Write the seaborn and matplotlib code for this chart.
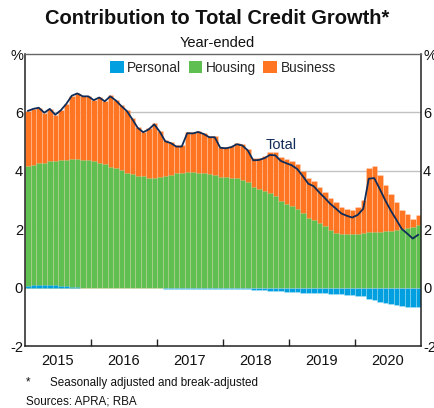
import numpy as np
import pandas as pd
import matplotlib
matplotlib.use("Agg")
import matplotlib.pyplot as plt
from matplotlib.patches import Patch
import seaborn as sns

# Monthly contributions to year-ended credit growth, Jan 2015 - Dec 2020 (ppt)
personal = [0.07, 0.08, 0.10, 0.10, 0.09, 0.08, 0.06, 0.04, 0.03, 0.01, 0.00, 0.00,
            -0.01, -0.01, -0.02, -0.03, -0.03, -0.03, -0.03, -0.03, -0.02, -0.02, -0.03, -0.03,
            -0.03, -0.04, -0.04, -0.04, -0.04, -0.04, -0.05, -0.05, -0.05, -0.05, -0.04, -0.04,
            -0.04, -0.04, -0.05, -0.05, -0.06, -0.07, -0.08, -0.09, -0.10, -0.11, -0.12, -0.14,
            -0.15, -0.16, -0.17, -0.18, -0.19, -0.20, -0.20, -0.21, -0.22, -0.23, -0.24, -0.25,
            -0.28, -0.30, -0.38, -0.42, -0.48, -0.52, -0.57, -0.60, -0.64, -0.68, -0.68, -0.66]
housing = [4.09, 4.11, 4.17, 4.17, 4.24, 4.26, 4.30, 4.33, 4.39, 4.40, 4.36, 4.36,
           4.32, 4.28, 4.25, 4.14, 4.08, 4.02, 3.94, 3.89, 3.83, 3.81, 3.77, 3.77,
           3.80, 3.83, 3.86, 3.91, 3.94, 3.97, 3.97, 3.94, 3.92, 3.89, 3.85, 3.80,
           3.80, 3.77, 3.75, 3.68, 3.60, 3.46, 3.38, 3.32, 3.23, 3.12, 2.98, 2.85,
           2.80, 2.70, 2.55, 2.40, 2.31, 2.21, 2.10, 1.97, 1.87, 1.85, 1.85, 1.85,
           1.85, 1.87, 1.90, 1.91, 1.92, 1.93, 1.94, 1.96, 1.99, 2.03, 2.08, 2.16]
business = [1.89, 1.93, 1.89, 1.72, 1.79, 1.58, 1.71, 1.92, 2.15, 2.24, 2.19, 2.19,
            2.11, 2.24, 2.15, 2.44, 2.36, 2.23, 2.14, 1.91, 1.66, 1.53, 1.68, 1.85,
            1.57, 1.22, 1.13, 0.96, 0.93, 1.36, 1.36, 1.44, 1.39, 1.31, 1.34, 1.03,
            1.01, 1.08, 1.21, 1.24, 1.16, 0.97, 1.07, 1.20, 1.41, 1.52, 1.48, 1.55,
            1.54, 1.52, 1.44, 1.34, 1.35, 1.25, 1.17, 1.11, 1.06, 0.92, 0.85, 0.80,
            0.92, 1.13, 2.21, 2.26, 1.94, 1.58, 1.27, 0.97, 0.66, 0.50, 0.28, 0.31]
years = ["2015", "2016", "2017", "2018", "2019", "2020"]
series_names = ["Personal", "Housing", "Business"]

BLUE = "#00a0e0"
GREEN = "#5fbf50"
ORANGE = "#ff7522"
NAVY = "#102c58"

n = len(housing)
df = pd.DataFrame({
    "month": np.arange(n),
    "personal": personal,
    "housing": housing,
    "business": business,
})
df["pos_personal"] = df["personal"].clip(lower=0)
df["green_top"] = df["pos_personal"] + df["housing"]
df["stack_top"] = df["green_top"] + df["business"]
df["total"] = df["personal"] + df["housing"] + df["business"]

sns.set_theme(style="white")
plt.rcParams["font.family"] = ["Liberation Sans", "DejaVu Sans"]

fig = plt.figure(figsize=(4.34, 4.08), dpi=100)
ax = fig.add_axes([25 / 434, 1 - 346 / 408, 396 / 434, 292 / 408])

# horizontal grid behind the bars
for yv in (2, 4, 6):
    ax.axhline(yv, color="#c2c2c2", lw=1.0, zorder=0)

edge = (1, 1, 1, 0.35)
common = dict(x="month", width=1.0, saturation=1, errorbar=None,
              edgecolor=edge, linewidth=0.4, ax=ax, zorder=2)
sns.barplot(data=df, y="stack_top", color=ORANGE, **common)
sns.barplot(data=df, y="green_top", color=GREEN, **common)
sns.barplot(data=df, y="personal", color=BLUE, **common)

sns.lineplot(data=df, x="month", y="total", color=NAVY, lw=1.3, ax=ax, zorder=4)

ax.set_xlim(-0.5, n - 0.5)
ax.set_ylim(-2, 8)
ax.set_xlabel("")
ax.set_ylabel("")

# year boundaries as inward ticks, year names centred under each year
ax.set_xticks([11.5, 23.5, 35.5, 47.5, 59.5])
ax.set_xticklabels([])
ax.tick_params(axis="x", which="major", direction="in", length=5, width=1,
               color="#222222", bottom=True)
ax.set_xticks([5.5 + 12 * i for i in range(len(years))], minor=True)
ax.set_xticklabels(years, minor=True, fontsize=10.5)
ax.tick_params(axis="x", which="minor", length=0, pad=6, colors="#111111")

ax.set_yticks([-2, 0, 2, 4, 6, 8])
ax.set_yticklabels(["-2", "0", "2", "4", "6", "%"], fontsize=10.5)
ax.tick_params(axis="y", length=0, pad=1.5, labelleft=True, labelright=True,
               colors="#111111")

for side in ("left", "bottom", "right"):
    ax.spines[side].set_color("#222222")
    ax.spines[side].set_linewidth(1.1)
ax.spines["top"].set_color("#666666")
ax.spines["top"].set_linewidth(1.0)
for s in ax.spines.values():
    s.set_zorder(5)

handles = [Patch(facecolor=c, edgecolor="none") for c in (BLUE, GREEN, ORANGE)]
ax.legend(handles, series_names, loc="center", bbox_to_anchor=(0.5, 0.952),
          ncol=3, frameon=False, fontsize=9.8, handlelength=1.0, handleheight=1.0,
          handletextpad=0.25, columnspacing=0.55, borderaxespad=0)

ax.text(46, 4.9, "Total", color=NAVY, fontsize=10.5, ha="center", va="center")

fig.text(0.5, 1 - 18 / 408, "Contribution to Total Credit Growth*", ha="center",
         va="center", fontsize=14.5, fontweight="bold", color="#111111")
fig.text(0.5, 1 - 43 / 408, "Year-ended", ha="center", va="center",
         fontsize=10.5, color="#111111")
fig.text(26 / 434, 1 - 382 / 408, "*", ha="left", va="center", fontsize=8.4,
         color="#111111")
fig.text(50 / 434, 1 - 383 / 408, "Seasonally adjusted and break-adjusted",
         ha="left", va="center", fontsize=8.4, color="#111111")
fig.text(26 / 434, 1 - 402 / 408, "Sources: APRA; RBA", ha="left", va="center",
         fontsize=8.4, color="#111111")

fig.savefig("out.png", dpi=100)
